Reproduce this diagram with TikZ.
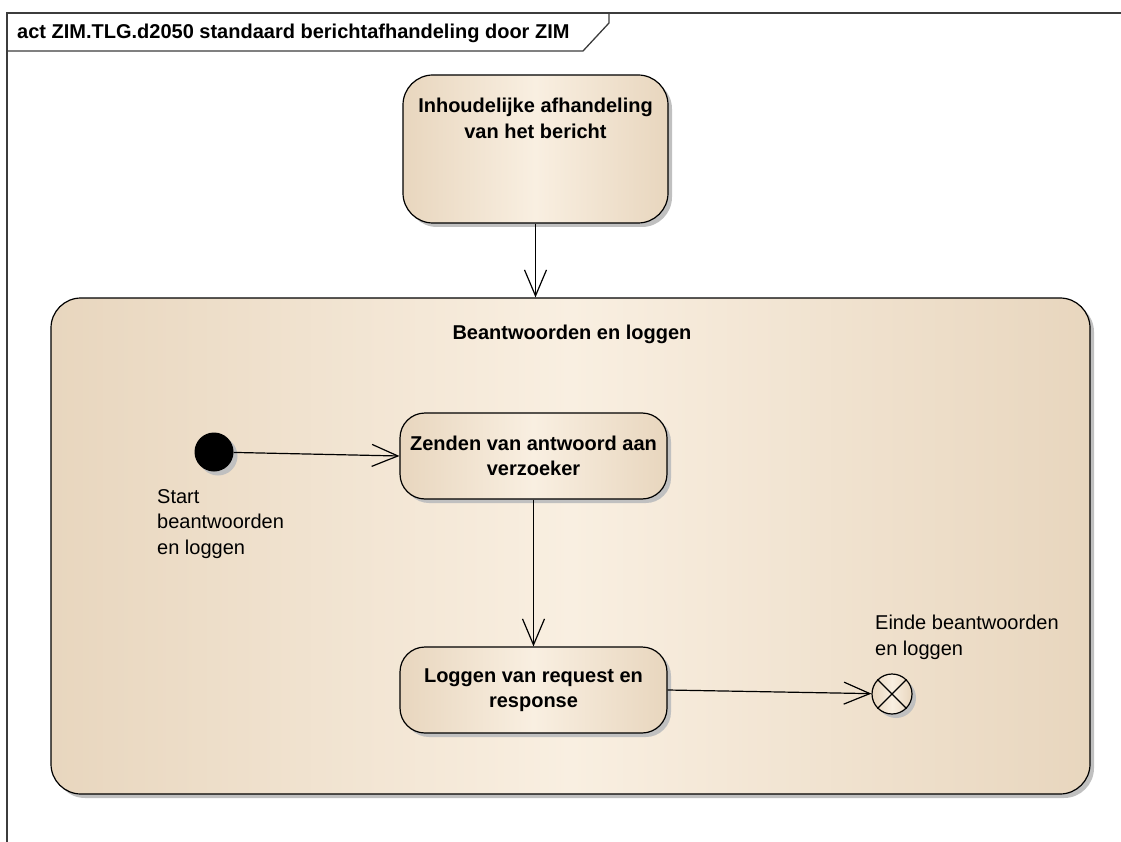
\documentclass[tikz,border=0pt]{standalone}
\usepackage{fontspec}
\setmainfont{Liberation Sans}
\usetikzlibrary{arrows.meta,shadows}
\definecolor{tanedge}{RGB}{232,214,190}
\definecolor{tanmid}{RGB}{249,239,225}
\definecolor{shadowgray}{RGB}{192,192,192}
\definecolor{framegray}{RGB}{60,60,60}
\begin{document}
\begin{tikzpicture}[x=1pt,y=-1pt,
  shad/.style={drop shadow={shadow xshift=4pt, shadow yshift=-4pt, fill=shadowgray, opacity=1}},
  statebox/.style={draw=black, line width=1.2pt, rounded corners=25pt,
    left color=tanedge, right color=tanedge, middle color=tanmid, shad,
    font=\bfseries\fontsize{20}{25.5}\selectfont, align=center, inner sep=0pt},
  btext/.style={font=\bfseries\fontsize{20}{25.5}\selectfont, align=center, inner sep=0pt},
  ntext/.style={font=\fontsize{20}{25.5}\selectfont, align=left, inner sep=0pt},
  conn/.style={line width=1.2pt, -{Straight Barb[length=26pt,width=22pt,line width=1.2pt]}},
  framel/.style={draw=framegray, line width=1.3pt}]
\useasboundingbox (0,0) rectangle (1121,842);
% frame
\draw[framel] (1121,13) -- (7,13) -- (7,842);
\draw[framel] (7,51) -- (583,51) -- (609,23) -- (609,13);
\node[btext, anchor=base west] (title) at (17,39) {act ZIM.TLG.d2050 standaard berichtafhandeling door ZIM};
% container
\node[statebox, rounded corners=30pt, minimum width=1039pt, minimum height=496pt] (cont) at (570.5,546) {};
\node[btext, anchor=base] (contT) at (572,339) {Beantwoorden en loggen};
% top activity
\node[statebox, rounded corners=30pt, minimum width=265pt, minimum height=148pt] (inh) at (535.5,149) {};
\node[btext, anchor=north] (inhT) at (535.5,98) {Inhoudelijke afhandeling\\van het bericht};
% inner nodes
\node[statebox, minimum width=267pt, minimum height=86pt] (zen) at (533.5,456) {Zenden van antwoord aan\\verzoeker};
\node[statebox, minimum width=267pt, minimum height=86pt] (log) at (533.5,690) {Loggen van request en\\response};
\node[circle, fill=black, minimum size=39pt, inner sep=0pt, shad] (start) at (214,452) {};
\node[circle, draw=black, line width=1.2pt, minimum size=40pt, inner sep=0pt,
  left color=tanedge, right color=tanedge, middle color=tanmid, shad] (fin) at (892,694) {};
\draw[line width=1.2pt] (fin.north west) -- (fin.south east) (fin.north east) -- (fin.south west);
% labels
\node[ntext, anchor=north west] (startL) at (157,489) {Start\\beantwoorden\\en loggen};
\node[ntext, anchor=north west] (finL) at (875,615) {Einde beantwoorden\\en loggen};
% connectors
\draw[conn] (inh.south) -- (inh.south |- cont.north);
\draw[conn] (start) -- (zen.west);
\draw[conn] (zen.south) -- (log.north);
\draw[conn] (log.east) -- (fin);
\end{tikzpicture}
\end{document}
